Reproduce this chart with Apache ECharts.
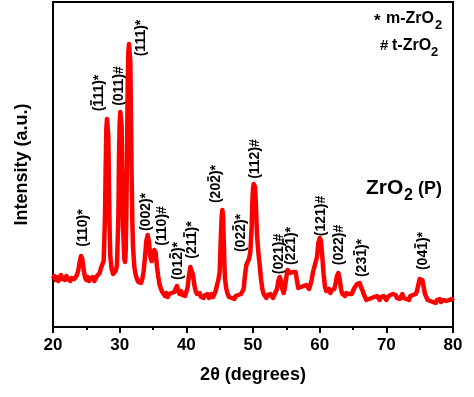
<!DOCTYPE html>
<html><head><meta charset="utf-8">
<script src="https://cdn.jsdelivr.net/npm/echarts@6/dist/echarts.min.js"></script>
<style>html,body{margin:0;padding:0;background:#fff}#c{width:474px;height:397px}</style>
</head><body><div id="c"></div>
<script>
// 2θ (degrees) and intensity (a.u.)
const twoTheta = [20.0,20.2,20.4,20.6,20.8,21.0,21.2,21.4,21.6,21.8,22.0,22.2,22.4,22.6,22.8,23.0,23.2,23.4,23.6,23.8,24.0,24.2,24.4,24.6,24.8,25.0,25.2,25.4,25.6,25.8,26.0,26.2,26.4,26.6,26.8,27.0,27.2,27.4,27.6,27.8,27.9,28.0,28.1,28.2,28.3,28.4,28.5,28.6,28.8,29.0,29.2,29.4,29.6,29.8,29.9,30.0,30.1,30.2,30.3,30.4,30.5,30.7,30.8,30.9,31.0,31.1,31.2,31.3,31.4,31.5,31.6,31.7,31.8,31.9,32.0,32.2,32.4,32.6,32.8,33.0,33.2,33.4,33.6,33.8,34.0,34.2,34.4,34.6,34.8,35.0,35.2,35.4,35.6,35.8,36.0,36.2,36.4,36.6,36.8,37.0,37.2,37.4,37.6,37.8,38.0,38.2,38.4,38.6,38.8,39.0,39.2,39.4,39.6,39.8,40.0,40.2,40.4,40.6,40.8,41.0,41.2,41.4,41.6,41.8,42.0,42.2,42.4,42.6,42.8,43.0,43.2,43.4,43.6,43.8,44.0,44.2,44.4,44.6,44.8,45.0,45.1,45.2,45.3,45.4,45.5,45.6,45.7,45.8,46.0,46.2,46.4,46.6,46.8,47.0,47.2,47.4,47.6,47.8,48.0,48.2,48.4,48.6,48.8,49.0,49.2,49.4,49.6,49.8,49.9,50.0,50.1,50.2,50.3,50.4,50.5,50.6,50.8,51.0,51.2,51.4,51.6,51.8,52.0,52.2,52.4,52.6,52.8,53.0,53.2,53.4,53.6,53.8,54.0,54.2,54.4,54.6,54.8,55.0,55.2,55.4,55.6,55.8,56.0,56.2,56.4,56.6,56.8,57.0,57.2,57.4,57.6,57.8,58.0,58.2,58.4,58.6,58.8,59.0,59.2,59.4,59.6,59.8,60.0,60.2,60.4,60.6,60.8,61.0,61.2,61.4,61.6,61.8,62.0,62.2,62.4,62.6,62.8,63.0,63.2,63.4,63.6,63.8,64.0,64.2,64.4,64.6,64.8,65.0,65.2,65.4,65.6,65.8,66.0,66.2,66.4,66.6,66.8,67.0,67.2,67.4,67.6,67.8,68.0,68.2,68.4,68.6,68.8,69.0,69.2,69.4,69.6,69.8,70.0,70.2,70.4,70.6,70.8,71.0,71.2,71.4,71.6,71.8,72.0,72.2,72.4,72.6,72.8,73.0,73.2,73.4,73.6,73.8,74.0,74.2,74.4,74.6,74.8,75.0,75.2,75.4,75.6,75.8,76.0,76.2,76.4,76.6,76.8,77.0,77.2,77.4,77.6,77.8,78.0,78.2,78.4,78.6,78.8,79.0,79.2,79.4,79.6,79.8,80.0];
const intensity = [48,51,47,50,46,49,52,48,50,47,51,48,50,46,49,51,48,50,52,57,65,71,68,57,50,47,50,46,49,47,50,46,48,51,49,54,59,61,66,110,160,198,208,209,190,140,95,70,58,53,52,56,62,110,170,205,215,217,200,150,100,68,65,75,110,170,240,275,283,284,265,210,150,105,80,60,52,48,45,47,44,48,56,70,86,92,85,70,66,70,77,74,60,50,42,38,35,33,31,34,30,33,31,34,32,35,38,41,36,33,36,32,34,31,35,40,52,60,62,52,42,36,33,31,34,30,32,29,32,30,33,29,31,33,30,33,36,42,47,55,75,95,110,117,112,90,65,48,38,33,30,32,29,31,28,31,29,32,30,33,31,38,52,62,64,68,75,100,125,138,143,144,140,128,110,92,75,62,48,38,33,31,29,32,30,33,31,29,32,34,38,46,50,46,38,34,40,50,57,59,54,52,55,57,55,46,39,37,40,38,41,39,42,40,38,42,47,55,60,62,70,84,89,86,70,52,40,36,35,38,34,37,35,38,44,51,54,48,38,33,35,31,34,36,33,35,33,36,39,41,43,45,44,40,37,33,30,27,25,28,26,29,27,30,28,31,29,27,30,28,31,29,27,30,28,32,30,33,35,32,29,31,28,30,33,29,31,28,30,27,31,29,32,30,33,36,42,48,50,47,40,33,30,27,29,26,28,25,27,24,27,25,28,25,23,27,29,26,24,27,25,28,26];
const xTicks = [20, 30, 40, 50, 60, 70, 80];
// peak annotations: Miller-index label, index of the barred (negative) digit (-1 = none), anchor [2θ, intensity]
const peakLabels = ['(110)*','(111)*','(011)#','(111)*','(002)*','(110)#','(012)*','(211)*','(202)*','(022)*','(112)#','(021)#','(221)*','(121)#','(022)#','(231)*','(041)*'];
const peakBarDigit = [-1,1,-1,-1,-1,-1,3,3,3,3,-1,-1,3,-1,-1,3,3];
const peakLabelAt = [[24.5,99],[26.9,234],[29.9,241],[33.2,289],[33.95,115],[36.35,101],[38.75,66],[40.85,87],[44.45,143],[48.2,94],[50.3,168],[53.9,73],[55.7,81],[60.2,111],[62.9,82],[66.35,69],[75.5,76]];

const FONT = "'Liberation Sans', Arial, sans-serif";
const chart = echarts.init(document.getElementById('c'), null, {renderer: 'canvas'});
const pts = twoTheta.map((x, i) => [x, intensity[i]]);
chart.setOption({
  animation: false,
  backgroundColor: '#fff',
  grid: {left: 53, right: 21, top: 2, bottom: 70, show: true, borderColor: '#000', borderWidth: 2},
  xAxis: {
    type: 'value', min: xTicks[0], max: xTicks[xTicks.length - 1], interval: 10,
    axisLine: {onZero: false, lineStyle: {color: '#000', width: 2}},
    axisTick: {show: true, inside: false, length: 6, lineStyle: {color: '#000', width: 2}},
    minorTick: {show: true, splitNumber: 2, length: 3, lineStyle: {color: '#000', width: 2}},
    splitLine: {show: false},
    axisLabel: {color: '#000', fontSize: 17, fontWeight: 'bold', fontFamily: FONT, margin: 10},
    name: '2θ (degrees)', nameLocation: 'middle', nameGap: 39,
    nameTextStyle: {color: '#000', fontSize: 18, fontWeight: 'bold', fontFamily: FONT}
  },
  yAxis: {
    type: 'value', min: 0, max: 325,
    axisLine: {show: true, lineStyle: {color: '#000', width: 2}},
    axisTick: {show: false}, axisLabel: {show: false}, splitLine: {show: false},
    name: 'Intensity (a.u.)', nameLocation: 'middle', nameGap: 22,
    nameTextStyle: {color: '#000', fontSize: 18, fontWeight: 'bold', fontFamily: FONT}
  },
  series: [{
    type: 'line', data: pts, showSymbol: false, symbol: 'none',
    lineStyle: {color: '#ff0000', width: 4.5, join: 'round'}
  }]
});

const LABEL_FONT = 'bold 14px ' + FONT;
const ctx = document.createElement('canvas').getContext('2d');
ctx.font = LABEL_FONT;
const graphics = [];
peakLabels.forEach((t, i) => {
  const p = chart.convertToPixel({gridIndex: 0}, peakLabelAt[i]);
  graphics.push({
    type: 'text', x: p[0], y: p[1], rotation: Math.PI / 2,
    style: {text: t, fill: '#000', font: LABEL_FONT, textAlign: 'center', textVerticalAlign: 'middle'}
  });
  const k = peakBarDigit[i];
  if (k >= 0) {
    const W = ctx.measureText(t).width;
    const w0 = ctx.measureText(t.slice(0, k)).width;
    const wd = ctx.measureText(t[k]).width;
    const yStart = p[1] + W / 2 - w0;
    const bx = p[0] - 8;
    graphics.push({
      type: 'line', shape: {x1: bx, y1: yStart - 1.5, x2: bx, y2: yStart - wd + 1.5},
      style: {stroke: '#000', lineWidth: 1.6}
    });
  }
});
function txt(x, y, t, size, align) {
  return {type: 'text', x: x, y: y, style: {text: t, fill: '#000', font: 'bold ' + size + 'px ' + FONT, textAlign: align || 'left', textVerticalAlign: 'middle'}};
}
graphics.push(
  txt(374, 21, '*', 17), txt(386, 19, 'm-ZrO', 16), txt(435, 25, '2', 13),
  txt(380, 46, '#', 15), txt(392, 46, 't-ZrO', 16), txt(431, 52, '2', 13),
  txt(366, 188, 'ZrO', 21), txt(404, 196, '2', 16), txt(418, 189, '(P)', 18)
);
chart.setOption({graphic: graphics});
</script></body></html>
